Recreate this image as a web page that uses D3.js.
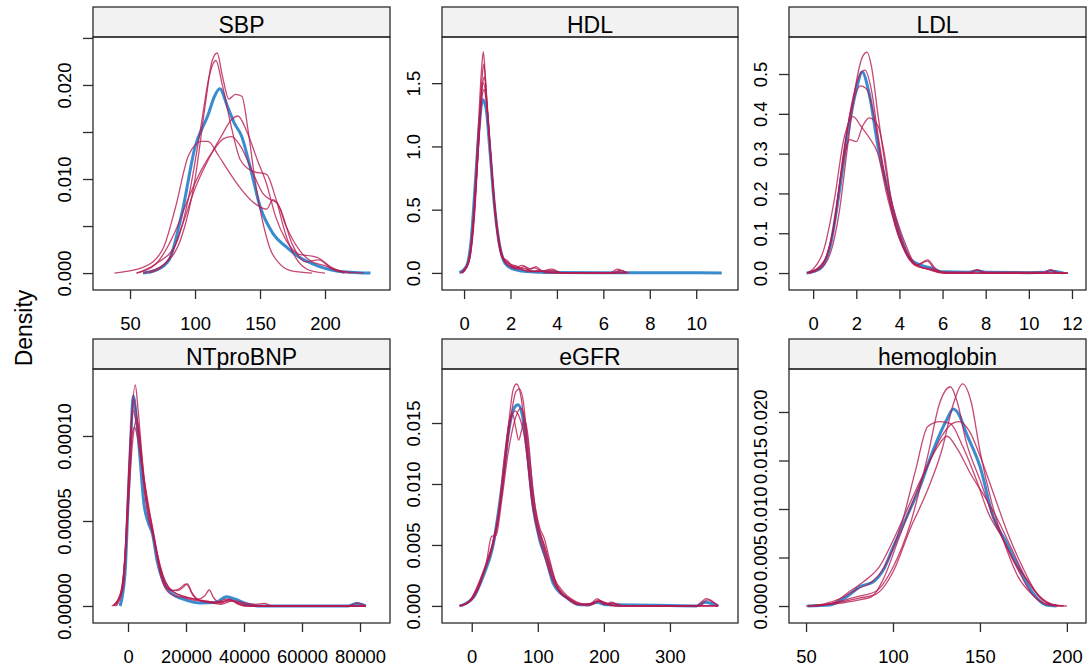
<!DOCTYPE html>
<html>
<head>
<meta charset="utf-8">
<script src="https://cdn.jsdelivr.net/npm/d3@7"></script>
<style>
    body { margin: 0; background: #fff; }
    svg text { font-family: "Liberation Sans", Arial, sans-serif; }
</style>
</head>
<body>
<div id="chart"></div>
<script>

// panel names, in the order they are laid out (left to right, top to bottom)
var panelNames = ["SBP", "HDL", "LDL", "NTproBNP", "eGFR", "hemoglobin"];

// axis limits
var sbpXLim = [21.5, 250], sbpYLim = [-0.0018, 0.0251];
var hdlXLim = [-0.95, 11.8], hdlYLim = [-0.135, 1.865];
var ldlXLim = [-1.12, 12.65], ldlYLim = [-0.0426, 0.593];
var bnpXLim = [-12069, 90345], bnpYLim = [-0.00001, 0.0001394];
var egfrXLim = [-45, 403], egfrYLim = [-0.0014, 0.01943];
var hbXLim = [40.2, 211], hbYLim = [-0.00175, 0.02443];

// tick values and the ticks that get a label
var sbpXTicks = [50, 100, 150, 200];
var sbpYTicks = [0, 0.005, 0.01, 0.015, 0.02, 0.025], sbpYLabels = [0, 0.01, 0.02];
var hdlXTicks = [0, 2, 4, 6, 8, 10];
var hdlYTicks = [0, 0.5, 1, 1.5];
var ldlXTicks = [0, 2, 4, 6, 8, 10, 12];
var ldlYTicks = [0, 0.1, 0.2, 0.3, 0.4, 0.5];
var bnpXTicks = [0, 20000, 40000, 60000, 80000];
var bnpYTicks = [0, 0.00005, 0.0001];
var egfrXTicks = [0, 100, 200, 300];
var egfrYTicks = [0, 0.005, 0.01, 0.015];
var hbXTicks = [50, 100, 150, 200];
var hbYTicks = [0, 0.005, 0.01, 0.015, 0.02];

// observed density (blue) and five imputed densities (red), [value, density]
var sbpObs = [[60,0],[70,0.0003],[80,0.0014],[90,0.0064],[100,0.0134],[110,0.0168],[115,0.0188],[119,0.0196],[125,0.0177],[130,0.016],[136,0.0145],[142,0.0115],[150,0.0071],[160,0.0042],[170,0.0028],[180,0.0017],[190,0.001],[200,0.0005],[210,0.0002],[220,0.0001],[235,0]];
var sbpImp = [
    [[60,0],[75,0.0008],[90,0.004],[100,0.01],[108,0.018],[113,0.0225],[117,0.0234],[121,0.021],[126,0.0185],[131,0.019],[136,0.0188],[141,0.015],[146,0.01],[152,0.0055],[158,0.0025],[165,0.001],[175,0.0002],[190,0]],
    [[55,0],[70,0.001],[85,0.003],[95,0.008],[105,0.016],[111,0.021],[116,0.0226],[121,0.02],[128,0.0155],[135,0.012],[145,0.0108],[155,0.0105],[162,0.008],[170,0.004],[178,0.0015],[188,0.0003],[200,0]],
    [[38,0],[60,0.0006],[75,0.0025],[85,0.007],[95,0.0125],[105,0.014],[110,0.014],[118,0.0125],[125,0.011],[135,0.009],[145,0.0075],[155,0.0068],[160,0.0078],[165,0.007],[175,0.003],[185,0.0012],[195,0.0014],[205,0.0005],[215,0]],
    [[65,0],[80,0.0015],[90,0.005],[100,0.009],[110,0.012],[120,0.0145],[128,0.0163],[133,0.0167],[140,0.015],[148,0.012],[155,0.0095],[162,0.006],[170,0.0035],[180,0.002],[190,0.0018],[195,0.0016],[205,0.0006],[220,0]],
    [[55,0],[70,0.001],[85,0.0045],[95,0.008],[105,0.011],[115,0.0132],[122,0.0143],[128,0.0145],[135,0.0135],[145,0.0105],[152,0.0085],[158,0.0078],[163,0.0075],[170,0.005],[180,0.0025],[190,0.0012],[200,0.0008],[210,0.0002],[230,0]]
];

var hdlObs = [[-0.2,0],[0.1,0.05],[0.3,0.25],[0.5,0.75],[0.65,1.15],[0.8,1.37],[0.95,1.3],[1.1,1.0],[1.3,0.55],[1.5,0.25],[1.7,0.1],[2.0,0.04],[2.5,0.015],[3,0.008],[4,0.003],[6,0.002],[7,0.002],[9,0.001],[11.1,0]];
var hdlImp = [
    [[-0.1,0],[0.2,0.1],[0.4,0.45],[0.6,1.1],[0.75,1.6],[0.83,1.75],[0.9,1.6],[1.0,1.3],[1.15,0.9],[1.3,0.55],[1.45,0.3],[1.6,0.15],[1.8,0.08],[2.0,0.05],[2.3,0.03],[2.6,0.05],[2.8,0.02],[3.2,0.01],[3.8,0.03],[4.2,0],[6.3,0],[6.6,0.03],[6.9,0.01],[7.1,0]],
    [[-0.05,0],[0.25,0.12],[0.45,0.5],[0.62,1.05],[0.78,1.55],[0.85,1.65],[0.95,1.45],[1.05,1.2],[1.2,0.8],[1.35,0.45],[1.5,0.22],[1.7,0.1],[1.9,0.06],[2.2,0.04],[2.5,0.06],[2.9,0.03],[3.1,0.05],[3.4,0.01],[4,0],[6.4,0],[6.7,0.02],[7.0,0]],
    [[-0.1,0],[0.2,0.08],[0.45,0.45],[0.65,1.1],[0.8,1.5],[0.88,1.55],[0.98,1.35],[1.1,1.05],[1.25,0.7],[1.4,0.4],[1.55,0.2],[1.75,0.1],[2.0,0.07],[2.3,0.05],[2.6,0.02],[3.0,0.04],[3.3,0.02],[3.8,0.01],[4.3,0],[7,0]],
    [[-0.15,0],[0.15,0.07],[0.4,0.4],[0.6,0.95],[0.78,1.4],[0.86,1.45],[0.96,1.35],[1.08,1.1],[1.2,0.8],[1.35,0.48],[1.5,0.27],[1.7,0.12],[1.9,0.08],[2.1,0.05],[2.4,0.03],[2.8,0.01],[3.2,0.02],[3.6,0],[6.5,0],[6.8,0.02],[7.0,0]],
    [[-0.1,0],[0.2,0.09],[0.42,0.42],[0.62,1.0],[0.77,1.45],[0.84,1.5],[0.94,1.4],[1.05,1.15],[1.18,0.85],[1.32,0.5],[1.48,0.26],[1.65,0.12],[1.85,0.1],[2.05,0.06],[2.4,0.04],[2.7,0.03],[3.0,0.01],[3.8,0.02],[4.2,0],[7,0]]
];

var ldlObs = [[-0.3,0],[0.3,0.01],[0.8,0.07],[1.2,0.2],[1.6,0.35],[2.0,0.46],[2.27,0.505],[2.6,0.45],[3.0,0.32],[3.5,0.2],[4.0,0.1],[4.5,0.035],[5.0,0.02],[5.5,0.012],[6,0.003],[7.2,0.002],[7.6,0.006],[8,0.002],[10,0.001],[10.7,0.002],[11,0.005],[11.6,0]];
var ldlImp = [
    [[-0.2,0],[0.3,0.01],[0.8,0.05],[1.2,0.15],[1.6,0.32],[2.0,0.48],[2.3,0.545],[2.5,0.555],[2.7,0.52],[3.0,0.4],[3.4,0.25],[3.8,0.14],[4.2,0.07],[4.6,0.03],[5.0,0.015],[5.3,0.01],[5.8,0.003],[6.5,0],[11.8,0]],
    [[-0.3,0],[0.4,0.02],[0.9,0.1],[1.3,0.25],[1.7,0.4],[2.1,0.49],[2.4,0.51],[2.7,0.46],[3.0,0.35],[3.4,0.22],[3.8,0.12],[4.3,0.05],[4.8,0.02],[5.3,0.033],[5.7,0.01],[6.2,0],[7.3,0],[7.6,0.008],[7.9,0],[10.7,0],[11.0,0.008],[11.3,0],[11.8,0]],
    [[-0.3,0],[0,0.01],[0.5,0.06],[1.0,0.19],[1.4,0.33],[1.85,0.393],[2.2,0.37],[2.6,0.34],[3.0,0.3],[3.4,0.2],[3.8,0.12],[4.2,0.06],[4.7,0.02],[5.3,0.01],[6,0],[11.8,0]],
    [[-0.2,0],[0.4,0.02],[0.9,0.1],[1.3,0.25],[1.7,0.335],[2.0,0.33],[2.3,0.37],[2.6,0.39],[3.0,0.37],[3.3,0.3],[3.6,0.19],[3.9,0.13],[4.3,0.07],[4.8,0.02],[5.3,0.03],[5.7,0.005],[6.2,0],[11.8,0]],
    [[-0.2,0],[0.5,0.03],[1.0,0.13],[1.4,0.3],[1.8,0.42],[2.2,0.47],[2.5,0.46],[2.8,0.4],[3.2,0.27],[3.6,0.17],[4.0,0.09],[4.5,0.035],[5.0,0.015],[5.5,0.01],[6,0.003],[7.3,0.002],[7.6,0.008],[8,0.002],[10.7,0.002],[11,0.008],[11.4,0.001],[11.8,0]]
];

var bnpObs = [[-2700,0],[-1000,0.00002],[0,0.00006],[1000,0.0001],[1800,0.0001235],[2800,0.000112],[4000,0.00009],[5500,0.00006],[7000,0.000049],[8500,0.000042],[10000,0.000027],[12000,0.000015],[15000,0.0000075],[20000,0.0000035],[25000,0.0000018],[30000,0.000002],[34000,0.0000055],[37000,0.000004],[41000,0.0000012],[46000,0],[76000,0],[79000,0.0000015],[82000,0]];
var bnpImp = [
    [[-5600,0],[-3000,0.000005],[-1000,0.00003],[0,0.00007],[1200,0.00011],[2500,0.00013],[3500,0.000115],[5000,0.000085],[6500,0.000062],[8000,0.000048],[9500,0.000035],[11000,0.000022],[13000,0.000012],[15000,0.000009],[17500,0.00001],[20000,0.000013],[22500,0.000006],[25000,0.000003],[28000,0.000002],[32000,0.000001],[36000,0.000003],[40000,0],[82000,0]],
    [[-4500,0],[-2000,0.00001],[0,0.000065],[1000,0.0001],[2000,0.000122],[3000,0.000112],[4500,0.00009],[6000,0.000065],[7500,0.00005],[9000,0.000038],[11000,0.00002],[13000,0.00001],[16000,0.000006],[20000,0.000005],[24000,0.000004],[26500,0.000006],[28000,0.0000094],[29500,0.000005],[32000,0.0000015],[35000,0.000004],[38000,0.000001],[42000,0],[82000,0]],
    [[-5000,0],[-2500,0.000008],[0,0.00006],[900,0.0001],[1800,0.000115],[2800,0.000108],[4000,0.000095],[5500,0.00007],[7000,0.000052],[8500,0.000043],[10000,0.00003],[12000,0.000016],[14000,0.00001],[17000,0.000009],[19000,0.000011],[20500,0.000013],[22000,0.000008],[25000,0.000003],[30000,0.000002],[35000,0.000003],[40000,0.000001],[45000,0],[82000,0]],
    [[-4000,0],[-1500,0.000012],[0,0.000055],[1500,0.000095],[3000,0.00011],[4000,0.0001],[5500,0.000075],[7000,0.000058],[8500,0.000046],[10000,0.000032],[12000,0.000018],[14000,0.000011],[17000,0.000007],[21000,0.000004],[25000,0.000003],[30000,0.000002],[34000,0.000004],[37000,0.000003],[44000,0.000001],[47000,0.0000015],[50000,0],[76000,0],[79000,0.0000018],[82000,0]],
    [[-5000,0],[-2000,0.00001],[0,0.00006],[1200,0.000098],[2200,0.000105],[3200,0.0001],[4500,0.000085],[6000,0.00007],[7500,0.000055],[9000,0.00004],[11000,0.000024],[13000,0.000014],[16000,0.000008],[19000,0.000006],[23000,0.000004],[27000,0.000003],[31000,0.000002],[35000,0.0000035],[39000,0.000001],[43000,0],[82000,0]]
];

var egfrObs = [[-18,0],[2,0.00066],[17,0.0024],[32,0.0049],[47,0.0103],[57,0.0147],[64,0.0162],[70,0.0165],[76,0.0158],[83,0.0131],[93,0.0081],[103,0.0054],[113,0.0038],[123,0.0019],[143,0.0007],[163,0.0001],[178,0.0001],[189,0.0003],[204,0.0001],[220,0.0001],[340,0],[353,0.0003],[373,0]];
var egfrImp = [
    [[-19,0],[-5,0.0003],[5,0.0012],[15,0.0025],[25,0.004],[35,0.0058],[45,0.009],[55,0.0145],[63,0.0178],[68,0.0182],[75,0.017],[82,0.0135],[90,0.009],[100,0.006],[108,0.0045],[115,0.0032],[125,0.0018],[135,0.001],[150,0.0005],[165,0.0001],[180,0.0002],[190,0.0006],[200,0.0002],[215,0.0002],[230,0],[340,0],[355,0.0006],[373,0]],
    [[-15,0],[0,0.0006],[10,0.0016],[20,0.003],[30,0.0045],[40,0.007],[50,0.0115],[60,0.0158],[67,0.0176],[72,0.0178],[78,0.0168],[85,0.0125],[93,0.0085],[102,0.0062],[110,0.005],[118,0.0035],[128,0.0018],[140,0.0009],[155,0.0003],[170,0.0001],[185,0.0003],[192,0.0005],[205,0.0001],[215,0],[373,0]],
    [[-17,0],[-2,0.0005],[10,0.0015],[20,0.003],[30,0.0048],[40,0.0075],[50,0.0125],[57,0.0152],[62,0.0157],[67,0.0145],[71,0.0136],[75,0.0143],[80,0.0153],[85,0.014],[92,0.0098],[100,0.0068],[108,0.0052],[118,0.0033],[130,0.0015],[145,0.0006],[160,0.0001],[185,0.0002],[192,0.0004],[200,0.0001],[212,0.0003],[225,0],[373,0]],
    [[-19,0],[-3,0.0004],[8,0.0014],[18,0.0028],[28,0.0043],[38,0.0066],[48,0.0105],[56,0.0143],[62,0.0158],[66,0.016],[72,0.0155],[80,0.0138],[88,0.0102],[96,0.0072],[105,0.0055],[112,0.0042],[120,0.0027],[132,0.0013],[145,0.0006],[160,0.0002],[175,0],[188,0.0003],[195,0.0004],[210,0.0001],[220,0],[345,0],[356,0.0005],[373,0]],
    [[-16,0],[0,0.0005],[12,0.0017],[22,0.0035],[30,0.0057],[37,0.0058],[45,0.0085],[55,0.0125],[65,0.0152],[74,0.0162],[80,0.0155],[87,0.0125],[95,0.0085],[103,0.0064],[110,0.0055],[117,0.004],[126,0.0022],[138,0.0012],[150,0.0006],[165,0.0002],[180,0.0001],[192,0.0004],[205,0.0002],[218,0],[373,0]]
];

var hbObs = [[50.8,0],[63.8,0.0001],[73.4,0.00096],[81,0.002],[88.7,0.0025],[94.4,0.0037],[100.2,0.0061],[107.9,0.0092],[115.5,0.0123],[123.2,0.0161],[130.9,0.0192],[134.7,0.0203],[138,0.0197],[142.2,0.0178],[150,0.0144],[157.6,0.0092],[165.3,0.0065],[173,0.0037],[180.6,0.0013],[188,0.0001],[194,0]];
var hbImp = [
    [[51,0],[60,0.0001],[70,0.0005],[80,0.001],[90,0.0015],[100,0.004],[110,0.0085],[120,0.0155],[127,0.021],[133,0.0226],[137,0.021],[142,0.017],[150,0.013],[158,0.009],[165,0.0062],[172,0.0037],[180,0.0012],[188,0.0002],[195,0]],
    [[55,0],[70,0.0004],[80,0.0008],[90,0.0012],[100,0.0035],[110,0.008],[120,0.012],[128,0.016],[135,0.021],[140,0.0229],[145,0.021],[150,0.016],[157,0.0105],[165,0.006],[172,0.003],[180,0.0012],[190,0.0001],[198,0]],
    [[50,0],[60,0.0002],[70,0.0008],[80,0.0018],[88,0.0025],[95,0.004],[105,0.0085],[113,0.014],[120,0.0185],[127,0.019],[133,0.0188],[140,0.0165],[148,0.013],[155,0.0095],[163,0.007],[170,0.0045],[178,0.0025],[186,0.0006],[195,0]],
    [[52,0],[65,0.0003],[75,0.0015],[83,0.0025],[92,0.004],[102,0.0075],[112,0.0115],[120,0.0145],[126,0.0165],[131,0.0175],[137,0.0162],[145,0.0135],[152,0.0115],[160,0.009],[168,0.006],[176,0.003],[184,0.001],[192,0.0001],[200,0]],
    [[55,0],[70,0.0003],[80,0.0006],[88,0.001],[95,0.003],[103,0.0068],[112,0.011],[120,0.0145],[128,0.0175],[134,0.0188],[138,0.019],[144,0.018],[150,0.0155],[158,0.0115],[166,0.0075],[174,0.0042],[182,0.0015],[190,0.0003],[198,0]]
];

(function() {

    var width = 1089,
        height = 670

    // panel geometry: plot area of each column and row, strip sits above
    var colX = [[93, 390], [442, 738], [789, 1086]],
        rowY = [[37, 290], [369, 623]],
        stripH = 30

    var f3 = d3.format(".3f"),
        f1 = d3.format(".1f"),
        f5 = d3.format(".5f"),
        fd = d3.format("d")

    var panels = [
        { xLim: sbpXLim, yLim: sbpYLim, xTicks: sbpXTicks, yTicks: sbpYTicks, yLabels: sbpYLabels, fmt: f3, obs: sbpObs, imp: sbpImp },
        { xLim: hdlXLim, yLim: hdlYLim, xTicks: hdlXTicks, yTicks: hdlYTicks, yLabels: hdlYTicks, fmt: f1, obs: hdlObs, imp: hdlImp },
        { xLim: ldlXLim, yLim: ldlYLim, xTicks: ldlXTicks, yTicks: ldlYTicks, yLabels: ldlYTicks, fmt: f1, obs: ldlObs, imp: ldlImp },
        { xLim: bnpXLim, yLim: bnpYLim, xTicks: bnpXTicks, yTicks: bnpYTicks, yLabels: bnpYTicks, fmt: f5, obs: bnpObs, imp: bnpImp },
        { xLim: egfrXLim, yLim: egfrYLim, xTicks: egfrXTicks, yTicks: egfrYTicks, yLabels: egfrYTicks, fmt: f3, obs: egfrObs, imp: egfrImp },
        { xLim: hbXLim, yLim: hbYLim, xTicks: hbXTicks, yTicks: hbYTicks, yLabels: hbYTicks, fmt: f3, obs: hbObs, imp: hbImp }
    ]

    var svg = d3.select("#chart")
        .append("svg")
        .attr("width", width)
        .attr("height", height)

    panels.forEach(function(p, i) {
        var cx = colX[i % 3],
            ry = rowY[Math.floor(i / 3)]

        var x = d3.scaleLinear().domain(p.xLim).range(cx)
        var y = d3.scaleLinear().domain(p.yLim).range([ry[1], ry[0]])

        var g = svg.append("g")

        // strip with the variable name
        g.append("rect")
            .attr("x", cx[0]).attr("y", ry[0] - stripH)
            .attr("width", cx[1] - cx[0]).attr("height", stripH)
            .attr("fill", "#f2f2f2")
            .attr("stroke", "#2b2b2b")
            .attr("stroke-width", 1.3)

        g.append("text")
            .attr("x", (cx[0] + cx[1]) / 2)
            .attr("y", ry[0] - 4.5)
            .attr("text-anchor", "middle")
            .attr("font-size", "23px")
            .attr("fill", "#000")
            .text(panelNames[i])

        // x axis
        var xAxis = g.append("g")
            .attr("transform", "translate(0," + ry[1] + ")")
            .call(d3.axisBottom(x).tickValues(p.xTicks).tickSize(9).tickPadding(17.5).tickFormat(fd))
        xAxis.select(".domain").remove()
        xAxis.attr("font-family", null).attr("font-size", null)
        xAxis.selectAll("line").attr("stroke", "#2b2b2b").attr("stroke-width", 1.3)
        xAxis.selectAll("text").attr("font-size", "18.4px").attr("fill", "#000")

        // y axis, labels turned to read upwards
        var yAxis = g.append("g")
            .attr("transform", "translate(" + cx[0] + ",0)")
            .call(d3.axisLeft(y).tickValues(p.yTicks).tickSize(10)
                .tickFormat(function(d) {
                    return p.yLabels.some(function(v) { return Math.abs(v - d) < 1e-12; }) ? p.fmt(d) : "";
                }))
        yAxis.select(".domain").remove()
        yAxis.attr("font-family", null).attr("font-size", null)
        yAxis.selectAll("line").attr("stroke", "#2b2b2b").attr("stroke-width", 1.3)
        yAxis.selectAll("text")
            .attr("x", null).attr("dy", null)
            .attr("text-anchor", "middle")
            .attr("transform", "translate(-22.5,0) rotate(-90)")
            .attr("font-size", "18.4px")
            .attr("fill", "#000")

        var line = d3.line()
            .x(function(d) { return x(d[0]); })
            .y(function(d) { return y(d[1]); })
            .curve(d3.curveMonotoneX)

        // observed first, imputed drawn on top
        g.append("path")
            .datum(p.obs)
            .attr("d", line)
            .attr("fill", "none")
            .attr("stroke", "#006CC2")
            .attr("stroke-opacity", 0.78)
            .attr("stroke-width", 3)

        g.selectAll(".imp")
            .data(p.imp)
            .enter()
            .append("path")
            .attr("class", "imp")
            .attr("d", line)
            .attr("fill", "none")
            .attr("stroke", "#B61A51")
            .attr("stroke-opacity", 0.8)
            .attr("stroke-width", 1.3)

        // panel frame
        g.append("rect")
            .attr("x", cx[0]).attr("y", ry[0])
            .attr("width", cx[1] - cx[0]).attr("height", ry[1] - ry[0])
            .attr("fill", "none")
            .attr("stroke", "#2b2b2b")
            .attr("stroke-width", 1.3)
    })

    // shared y label
    svg.append("text")
        .attr("transform", "translate(31.5,328) rotate(-90)")
        .attr("text-anchor", "middle")
        .attr("font-size", "23px")
        .attr("fill", "#000")
        .text("Density")

})();
</script>
</body>
</html>
